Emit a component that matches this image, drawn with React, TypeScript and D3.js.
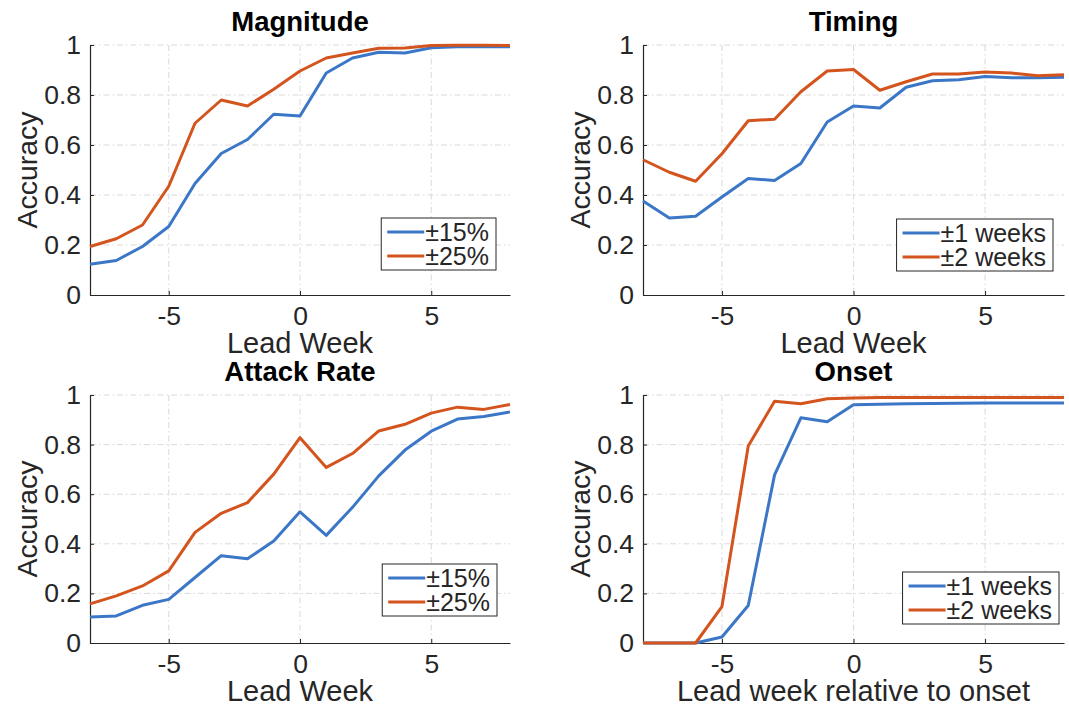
import React, { useEffect, useRef } from 'react';
import * as d3 from 'd3';

const weeks = [-8, -7, -6, -5, -4, -3, -2, -1, 0, 1, 2, 3, 4, 5, 6, 7, 8];

const magnitude15 = [0.123, 0.138, 0.194, 0.274, 0.446, 0.566, 0.622, 0.723, 0.716, 0.888, 0.948, 0.971, 0.968, 0.989, 0.993, 0.993, 0.993];
const magnitude25 = [0.194, 0.225, 0.28, 0.435, 0.687, 0.78, 0.756, 0.823, 0.896, 0.948, 0.968, 0.987, 0.988, 0.998, 0.999, 0.999, 0.998];

const timing1 = [0.376, 0.308, 0.315, 0.392, 0.466, 0.458, 0.526, 0.692, 0.756, 0.748, 0.831, 0.857, 0.861, 0.874, 0.869, 0.869, 0.871];
const timing2 = [0.541, 0.491, 0.455, 0.565, 0.697, 0.703, 0.813, 0.896, 0.902, 0.819, 0.853, 0.884, 0.884, 0.892, 0.888, 0.877, 0.881];

const attack15 = [0.105, 0.109, 0.152, 0.176, 0.264, 0.352, 0.34, 0.411, 0.529, 0.434, 0.547, 0.674, 0.778, 0.854, 0.903, 0.913, 0.932];
const attack25 = [0.158, 0.19, 0.23, 0.291, 0.446, 0.523, 0.566, 0.681, 0.828, 0.708, 0.764, 0.855, 0.882, 0.927, 0.951, 0.942, 0.962];

const onset1 = [0, 0, 0, 0.024, 0.151, 0.678, 0.908, 0.892, 0.961, 0.963, 0.965, 0.966, 0.967, 0.968, 0.968, 0.968, 0.968];
const onset2 = [0, 0, 0, 0.147, 0.794, 0.975, 0.965, 0.985, 0.988, 0.99, 0.99, 0.99, 0.99, 0.99, 0.99, 0.99, 0.99];

const xTicks = [-5, 0, 5];
const yTicks = [0, 0.2, 0.4, 0.6, 0.8, 1];
const yTickLabels = ['0', '0.2', '0.4', '0.6', '0.8', '1'];

const pctLabels = ['±15%', '±25%'];
const weekLabels = ['±1 weeks', '±2 weeks'];

const BLUE = '#3b77c6';
const ORANGE = '#d4541e';
const AXIS = '#262626';
const GRID = '#d9d9d9';
const FONT = '"Liberation Sans", Arial, Helvetica, sans-serif';

interface Series { name: string; values: number[]; color: string }
interface Panel {
  title: string;
  xLabel: string;
  series: Series[];
  x0: number; x1: number; y0: number; y1: number;
  legendRight: number; legendBottom: number;
}

const panels: Panel[] = [
  {
    title: 'Magnitude', xLabel: 'Lead Week',
    series: [
      { name: pctLabels[0], values: magnitude15, color: BLUE },
      { name: pctLabels[1], values: magnitude25, color: ORANGE },
    ],
    x0: 90, x1: 510, y0: 45, y1: 295, legendRight: 14, legendBottom: 25,
  },
  {
    title: 'Timing', xLabel: 'Lead Week',
    series: [
      { name: weekLabels[0], values: timing1, color: BLUE },
      { name: weekLabels[1], values: timing2, color: ORANGE },
    ],
    x0: 643, x1: 1064, y0: 45, y1: 295, legendRight: 11, legendBottom: 24,
  },
  {
    title: 'Attack Rate', xLabel: 'Lead Week',
    series: [
      { name: pctLabels[0], values: attack15, color: BLUE },
      { name: pctLabels[1], values: attack25, color: ORANGE },
    ],
    x0: 90, x1: 510, y0: 395, y1: 643, legendRight: 13, legendBottom: 27,
  },
  {
    title: 'Onset', xLabel: 'Lead week relative to onset',
    series: [
      { name: weekLabels[0], values: onset1, color: BLUE },
      { name: weekLabels[1], values: onset2, color: ORANGE },
    ],
    x0: 643, x1: 1064, y0: 395, y1: 643, legendRight: 5, legendBottom: 19,
  },
];

function drawPanel(svg: d3.Selection<SVGSVGElement, unknown, null, undefined>, p: Panel) {
  const x = d3.scaleLinear().domain([-8, 8]).range([p.x0, p.x1]);
  const y = d3.scaleLinear().domain([0, 1]).range([p.y1, p.y0]);
  const g = svg.append('g');

  // dash-dot grid
  g.selectAll('.gx').data(xTicks).join('line')
    .attr('x1', d => x(d)).attr('x2', d => x(d))
    .attr('y1', p.y0).attr('y2', p.y1)
    .attr('stroke', GRID).attr('stroke-width', 1)
    .attr('stroke-dasharray', '6,3,1.5,3');
  g.selectAll('.gy').data(yTicks.filter(v => v > 0)).join('line')
    .attr('x1', p.x0).attr('x2', p.x1)
    .attr('y1', d => y(d)).attr('y2', d => y(d))
    .attr('stroke', GRID).attr('stroke-width', 1)
    .attr('stroke-dasharray', '6,3,1.5,3');

  // axes, ticks pointing inward
  const xAxis = g.append('g')
    .attr('transform', `translate(0,${p.y1})`)
    .call(d3.axisBottom(x).tickValues(xTicks).tickFormat(d => String(d))
      .tickSizeInner(-4).tickSizeOuter(0).tickPadding(11));
  const yAxis = g.append('g')
    .attr('transform', `translate(${p.x0},0)`)
    .call(d3.axisLeft(y).tickValues(yTicks).tickFormat((_, i) => yTickLabels[i])
      .tickSizeInner(-4).tickSizeOuter(0).tickPadding(9));
  [xAxis, yAxis].forEach(a => {
    a.attr('font-family', FONT).attr('font-size', 26.5);
    a.select('.domain').attr('stroke', AXIS).attr('stroke-width', 1.2);
    a.selectAll('.tick line').attr('stroke', AXIS);
    a.selectAll('.tick text').attr('fill', AXIS);
  });

  // series
  const line = d3.line<number>()
    .x((_, i) => x(weeks[i]))
    .y(d => y(d));
  p.series.forEach(s => {
    g.append('path')
      .attr('d', line(s.values))
      .attr('fill', 'none')
      .attr('stroke', s.color)
      .attr('stroke-width', 3)
      .attr('stroke-linejoin', 'round');
  });

  // labels
  g.append('text')
    .attr('x', (p.x0 + p.x1) / 2).attr('y', p.y0 - 14)
    .attr('text-anchor', 'middle')
    .attr('font-family', FONT).attr('font-size', 27.5).attr('font-weight', 'bold')
    .attr('fill', '#000')
    .text(p.title);
  g.append('text')
    .attr('x', (p.x0 + p.x1) / 2).attr('y', p.y1 + 58)
    .attr('text-anchor', 'middle')
    .attr('font-family', FONT).attr('font-size', 29)
    .attr('fill', AXIS)
    .text(p.xLabel);
  g.append('text')
    .attr('transform', `translate(${p.x0 - 53},${(p.y0 + p.y1) / 2}) rotate(-90)`)
    .attr('text-anchor', 'middle')
    .attr('font-family', FONT).attr('font-size', 28.5)
    .attr('fill', AXIS)
    .text('Accuracy');

  // legend
  const lg = g.append('g');
  const box = lg.append('rect').attr('fill', '#fff').attr('stroke', AXIS).attr('stroke-width', 1);
  const texts = p.series.map((s, i) => {
    lg.append('line')
      .attr('x1', 6).attr('x2', 43)
      .attr('y1', 14 + i * 24).attr('y2', 14 + i * 24)
      .attr('stroke', s.color).attr('stroke-width', 3);
    return lg.append('text')
      .attr('x', 44).attr('y', 14 + i * 24 + 8.5)
      .attr('font-family', FONT).attr('font-size', 25)
      .attr('fill', AXIS)
      .text(s.name);
  });
  const textW = d3.max(texts, t => (t.node() as SVGTextElement).getComputedTextLength()) || 0;
  const w = 44 + textW + 7;
  const h = 52;
  box.attr('width', w).attr('height', h);
  lg.attr('transform', `translate(${p.x1 - p.legendRight - w},${p.y1 - p.legendBottom - h})`);
}

export default function App() {
  const svgRef = useRef<SVGSVGElement>(null);

  useEffect(() => {
    if (!svgRef.current) return;
    const svg = d3.select(svgRef.current);
    svg.selectAll('*').remove();
    panels.forEach(p => drawPanel(svg, p));
  }, []);

  return (
    <svg
      ref={svgRef}
      width={1069}
      height={706}
      style={{ position: 'absolute', left: 0, top: 0, background: '#fff' }}
    />
  );
}
